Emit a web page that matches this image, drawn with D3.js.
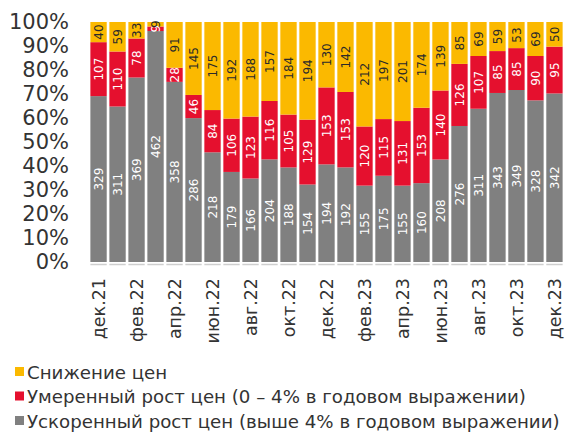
<!DOCTYPE html>
<html>
<head>
<meta charset="utf-8">
<script src="https://cdn.jsdelivr.net/npm/d3@7"></script>
<style>
  body { margin: 0; background: #fff; }
  svg { display: block; font-family: "DejaVu Sans", sans-serif; }
</style>
</head>
<body>
<div id="chart"></div>
<script>
var months = ["дек.21","янв.22","фев.22","мар.22","апр.22","май.22","июн.22","июл.22","авг.22",
  "сен.22","окт.22","ноя.22","дек.22","янв.23","фев.23","мар.23","апр.23","май.23","июн.23",
  "июл.23","авг.23","сен.23","окт.23","ноя.23","дек.23"];

// gray - accelerated growth, red - moderate growth, yellow - decline
var fast     = [329,311,369,462,358,286,218,179,166,204,188,154,194,192,155,175,155,160,208,276,311,343,349,328,342];
var moderate = [107,110, 78,  9, 28, 46, 84,106,123,116,105,129,153,153,120,115,131,153,140,126,107, 85, 85, 90, 95];
var decline  = [ 40, 59, 33,  9, 91,145,175,192,188,157,184,194,130,142,212,197,201,174,139, 85, 69, 59, 53, 69, 50];

var yTicks = [0,0.1,0.2,0.3,0.4,0.5,0.6,0.7,0.8,0.9,1];
var shownMonths = months.filter((m, i) => i % 2 == 0);

var seriesNames = {
  decline: "Снижение цен",
  moderate: "Умеренный рост цен (0 – 4% в годовом выражении)",
  fast: "Ускоренный рост цен (выше 4% в годовом выражении)"
};

var colors = { fast: "#808080", moderate: "#e5102e", decline: "#fbb900" };
var labelColors = { fast: "#fff", moderate: "#fff", decline: "#2a2a2a" };

var width = 565, height = 432;

var rows = months.map((m, i) => ({ month: m, fast: fast[i], moderate: moderate[i], decline: decline[i] }));

var stack = d3.stack()
  .keys(["fast", "moderate", "decline"])
  .offset(d3.stackOffsetExpand);
var series = stack(rows);

var xScale = d3.scaleBand()
  .domain(months)
  .range([90, 563])
  .paddingInner(0.14)
  .paddingOuter(0.02);

var yScale = d3.scaleLinear()
  .domain([0, 1])
  .range([262, 22]);

var svg = d3.select("#chart").append("svg")
  .attr("width", width)
  .attr("height", height);

// bars
var layer = svg.selectAll("g.layer")
  .data(series)
  .enter()
  .append("g")
  .attr("class", "layer")
  .attr("fill", d => colors[d.key]);

layer.selectAll("rect")
  .data(d => d)
  .enter()
  .append("rect")
  .attr("x", d => xScale(d.data.month))
  .attr("width", xScale.bandwidth())
  .attr("y", d => yScale(d[1]))
  .attr("height", d => yScale(d[0]) - yScale(d[1]));

// value labels
series.forEach(function(s){
  svg.append("g")
    .selectAll("text")
    .data(s)
    .enter()
    .append("text")
    .attr("transform", d => "translate(" + (xScale(d.data.month) + xScale.bandwidth()/2) + "," +
      ((yScale(d[0]) + yScale(d[1]))/2) + ") rotate(-90)")
    .attr("dy", "0.36em")
    .attr("text-anchor", "middle")
    .attr("font-size", 12)
    .attr("fill", labelColors[s.key])
    .text(d => d.data[s.key]);
});

// baseline under bars
svg.append("g")
  .selectAll("line")
  .data(months)
  .enter()
  .append("line")
  .attr("x1", d => xScale(d))
  .attr("x2", d => xScale(d) + xScale.bandwidth())
  .attr("y1", 264.5)
  .attr("y2", 264.5)
  .attr("stroke", "#cfcfcf")
  .attr("stroke-width", 1.5);

// y axis
var yAxis = d3.axisLeft(yScale)
  .tickValues(yTicks)
  .tickFormat(d3.format(".0%"))
  .tickSize(0)
  .tickPadding(0);

svg.append("g")
  .attr("class", "y axis")
  .attr("transform", "translate(69,0)")
  .call(yAxis)
  .call(g => g.select(".domain").remove())
  .selectAll("text")
  .attr("font-family", "DejaVu Sans, sans-serif")
  .attr("font-size", 21)
  .attr("fill", "#333");

// x axis
var xAxis = d3.axisBottom(xScale)
  .tickValues(shownMonths)
  .tickSize(0);

svg.append("g")
  .attr("class", "x axis")
  .attr("transform", "translate(0,264)")
  .call(xAxis)
  .call(g => g.select(".domain").remove())
  .selectAll("text")
  .attr("transform", "rotate(-90)")
  .attr("x", -14)
  .attr("y", 0)
  .attr("dy", "0.36em")
  .style("text-anchor", "end")
  .attr("font-family", "DejaVu Sans, sans-serif")
  .attr("font-size", 17.5)
  .attr("fill", "#333");

// legend
var legendKeys = ["decline", "moderate", "fast"];
var legend = svg.append("g")
  .selectAll("g")
  .data(legendKeys)
  .enter()
  .append("g")
  .attr("transform", (d, i) => "translate(15," + (372 + i * 24.5) + ")");

legend.append("rect")
  .attr("x", 0)
  .attr("y", -5)
  .attr("width", 9)
  .attr("height", 9)
  .attr("fill", d => colors[d]);

legend.append("text")
  .attr("x", 12)
  .attr("y", 0)
  .attr("dy", "0.36em")
  .attr("font-size", 18.2)
  .attr("fill", "#333")
  .text(d => seriesNames[d]);
</script>
</body>
</html>
